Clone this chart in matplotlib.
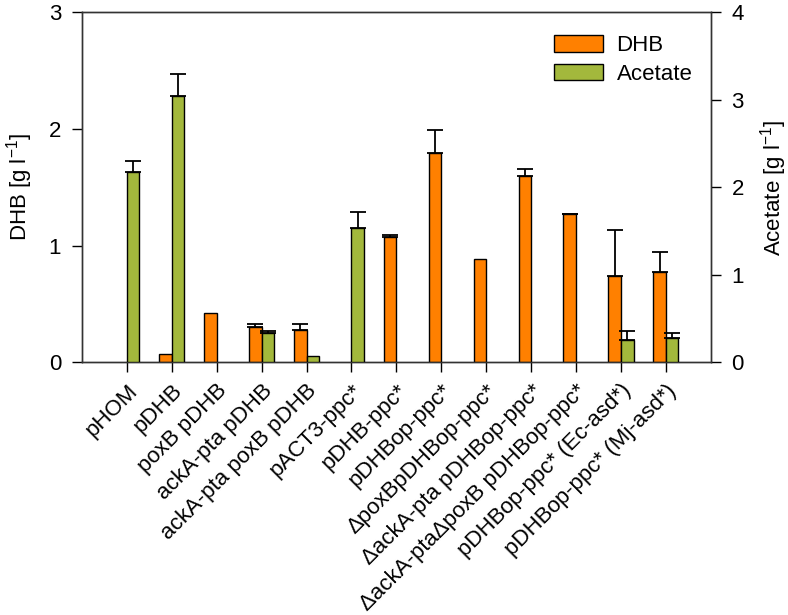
import numpy as np
import matplotlib.pyplot as plt
from matplotlib.patches import Patch

plt.rcParams['font.family'] = ['Liberation Sans', 'DejaVu Sans']
plt.rcParams['mathtext.fontset'] = 'custom'
plt.rcParams['mathtext.rm'] = 'Liberation Sans'
plt.rcParams['mathtext.it'] = 'Liberation Sans:italic'

strains = ['pHOM', 'pDHB', 'poxB pDHB', 'ackA-pta pDHB', 'ackA-pta poxB pDHB',
           'pACT3-ppc*', 'pDHB-ppc*', 'pDHBop-ppc*', '\u0394poxBpDHBop-ppc*',
           '\u0394ackA-pta pDHBop-ppc*', '\u0394ackA-pta\u0394poxB pDHBop-ppc*',
           'pDHBop-ppc* (Ec-asd*)', 'pDHBop-ppc* (Mj-asd*)']
dhb = [0, 0.07, 0.42, 0.30, 0.28, 0, 1.07, 1.79, 0.885, 1.60, 1.27, 0.74, 0.77]
dhb_err = [0, 0, 0, 0.03, 0.045, 0, 0.02, 0.20, 0, 0.055, 0.005, 0.39, 0.175]
acetate = [2.18, 3.04, 0, 0.33, 0.07, 1.54, 0, 0, 0, 0, 0, 0.25, 0.28]
acetate_err = [0.12, 0.25, 0, 0.025, 0, 0.18, 0, 0, 0, 0, 0, 0.105, 0.055]

orange = '#ff8000'
green = '#a3b83c'
w = 0.28
x = np.arange(len(strains))
dhb = np.array(dhb)
dhb_err = np.array(dhb_err)
acetate = np.array(acetate)
acetate_err = np.array(acetate_err)

fig = plt.figure(figsize=(7.88, 6.15), dpi=100)
ax = fig.add_axes([0.104, 0.411, 0.798, 0.569])
ax2 = ax.twinx()

ekw = dict(ecolor='black', elinewidth=1.3, capthick=1.3, capsize=6, fmt='none', zorder=4)

# only draw non-zero bars so no stray edges show on the axis
n1 = dhb > 0
ax.bar(x[n1], dhb[n1], width=-w, align='edge', color=orange, edgecolor='black',
       linewidth=1, zorder=3)
n2 = acetate > 0
ax2.bar(x[n2], acetate[n2], width=w, align='edge', color=green, edgecolor='black',
        linewidth=1, zorder=3)

m1 = dhb_err > 0
ax.errorbar(x[m1] - w / 2, dhb[m1], yerr=[np.zeros(m1.sum()), dhb_err[m1]], **ekw)
m2 = acetate_err > 0
ax2.errorbar(x[m2] + w / 2, acetate[m2], yerr=[np.zeros(m2.sum()), acetate_err[m2]], **ekw)

ax.set_xlim(-1, 13)
ax.set_ylim(0, 3)
ax2.set_ylim(0, 4)
ax.set_yticks([0, 1, 2, 3])
ax2.set_yticks([0, 1, 2, 3, 4])
ax.set_xticks(x)
ax.set_xticklabels(strains, rotation=45, ha='right', rotation_mode='anchor', fontsize=16)
ax.tick_params(axis='y', direction='out', length=7, width=1, labelsize=16, pad=8)
ax.tick_params(axis='x', direction='out', length=7, width=1, pad=6, labelsize=16)
ax2.tick_params(axis='y', direction='out', length=7, width=1, labelsize=16, pad=8)
ax.set_ylabel('DHB [g l$^{-1}$]', fontsize=16, labelpad=10)
ax2.set_ylabel('Acetate [g l$^{-1}$]', fontsize=16, labelpad=10)

for a in (ax, ax2):
    for s in a.spines.values():
        s.set_linewidth(1)
        s.set_color('#333333')

handles = [Patch(facecolor=orange, edgecolor='black', linewidth=1),
           Patch(facecolor=green, edgecolor='black', linewidth=1)]
ax2.legend(handles, ['DHB', 'Acetate'], loc='upper right', frameon=False,
           fontsize=16, handlelength=2.2, handleheight=0.75, handletextpad=0.6,
           bbox_to_anchor=(0.985, 0.96), borderaxespad=0, labelspacing=0.35)

fig.savefig('out.png', dpi=100)
